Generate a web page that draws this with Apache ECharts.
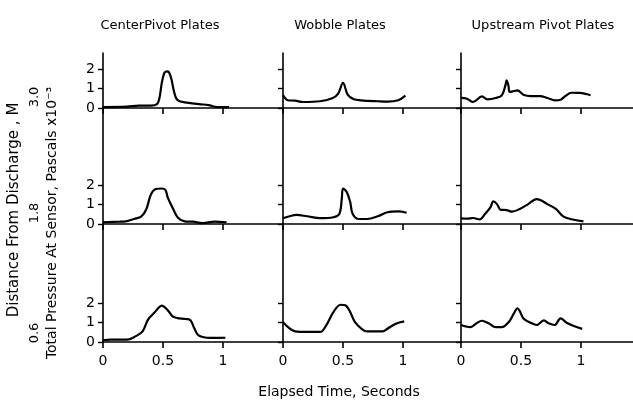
<!DOCTYPE html>
<html>
<head>
<meta charset="utf-8">
<script src="https://cdn.jsdelivr.net/npm/echarts@6/dist/echarts.min.js"></script>
<style>
  html, body { margin: 0; padding: 0; background: #fff; }
  #main { width: 633px; height: 401px; }
</style>
</head>
<body>
<div id="main"></div>
<script>
// column / row names
var plates = ['CenterPivot Plates', 'Wobble Plates', 'Upstream Pivot Plates'];
var distances = ['3.0', '1.8', '0.6'];
var xTicks = [0, 0.5, 1];
var yTicks = [0, 1, 2];

// [seconds, pressure x10^-3 Pa]   row = distance, col = plate type
var center30 = [[0,0.05],[0.2,0.07],[0.3,0.12],[0.4,0.12],[0.45,0.2],[0.47,0.5],[0.49,1.3],[0.51,1.8],[0.53,1.9],[0.55,1.85],[0.57,1.5],[0.59,0.9],[0.61,0.5],[0.64,0.35],[0.7,0.28],[0.8,0.2],[0.88,0.15],[0.95,0.05],[1.05,0.05]];
var wobble30 = [[0,0.67],[0.04,0.4],[0.1,0.38],[0.17,0.31],[0.31,0.35],[0.41,0.5],[0.46,0.75],[0.5,1.3],[0.54,0.68],[0.59,0.45],[0.65,0.4],[0.79,0.35],[0.87,0.33],[0.96,0.4],[1.02,0.64]];
var upstream30 = [[0,0.52],[0.05,0.48],[0.1,0.31],[0.175,0.6],[0.22,0.45],[0.29,0.52],[0.34,0.65],[0.37,1.17],[0.38,1.43],[0.395,1.17],[0.405,0.83],[0.43,0.86],[0.47,0.91],[0.52,0.69],[0.58,0.62],[0.66,0.62],[0.72,0.52],[0.785,0.4],[0.83,0.43],[0.87,0.62],[0.92,0.79],[0.99,0.78],[1.08,0.66]];

var center18 = [[0,0.09],[0.14,0.12],[0.19,0.14],[0.26,0.26],[0.32,0.4],[0.36,0.75],[0.4,1.54],[0.44,1.81],[0.49,1.84],[0.52,1.77],[0.54,1.37],[0.58,0.84],[0.625,0.32],[0.68,0.14],[0.75,0.12],[0.83,0.05],[0.93,0.12],[1.03,0.09]];
var wobble18 = [[0,0.3],[0.056,0.4],[0.11,0.47],[0.2,0.4],[0.31,0.3],[0.42,0.35],[0.47,0.53],[0.49,1.32],[0.5,1.84],[0.53,1.67],[0.56,1.14],[0.58,0.53],[0.63,0.26],[0.7,0.26],[0.79,0.4],[0.87,0.61],[0.96,0.65],[1.03,0.58]];
var upstream18 = [[0,0.29],[0.05,0.28],[0.1,0.31],[0.155,0.24],[0.2,0.52],[0.245,0.86],[0.27,1.17],[0.3,1.03],[0.33,0.74],[0.38,0.72],[0.425,0.64],[0.49,0.78],[0.56,1.03],[0.63,1.29],[0.66,1.24],[0.72,1.03],[0.79,0.78],[0.855,0.38],[0.94,0.22],[1.02,0.14]];

var center06 = [[0,0.09],[0.064,0.12],[0.2,0.12],[0.27,0.29],[0.33,0.55],[0.375,1.16],[0.425,1.5],[0.47,1.81],[0.49,1.88],[0.54,1.64],[0.58,1.33],[0.62,1.24],[0.69,1.19],[0.73,1.12],[0.76,0.72],[0.79,0.38],[0.83,0.26],[0.9,0.21],[1.02,0.22]];
var wobble06 = [[0,1.03],[0.04,0.78],[0.1,0.55],[0.2,0.52],[0.31,0.52],[0.36,0.86],[0.42,1.55],[0.48,1.93],[0.52,1.9],[0.56,1.55],[0.6,1.03],[0.66,0.66],[0.7,0.55],[0.83,0.55],[0.87,0.69],[0.94,0.95],[1.01,1.07]];
var upstream06 = [[0,0.88],[0.08,0.77],[0.13,0.97],[0.175,1.1],[0.23,0.97],[0.29,0.77],[0.34,0.77],[0.4,1.05],[0.44,1.47],[0.47,1.75],[0.49,1.6],[0.52,1.22],[0.58,1.0],[0.63,0.88],[0.69,1.12],[0.73,0.97],[0.78,0.88],[0.83,1.22],[0.88,1.0],[0.94,0.83],[1.01,0.68]];

var panels = [
    [center30, wobble30, upstream30],
    [center18, wobble18, upstream18],
    [center06, wobble06, upstream06]
];

var font = 'DejaVu Sans';
var cols = [{left: 103, width: 180}, {left: 283, width: 178}, {left: 461, width: 172}];
var rows = [{top: 53, height: 55}, {top: 108, height: 116}, {top: 224, height: 118}];
var pxPerSec = 120, pxPerUnit = 19.3;

var grids = [], xAxes = [], yAxes = [], series = [];
for (var r = 0; r < 3; r++) {
    for (var c = 0; c < 3; c++) {
        var idx = grids.length;
        grids.push({left: cols[c].left, width: cols[c].width, top: rows[r].top, height: rows[r].height});
        xAxes.push({
            type: 'value', gridIndex: idx, min: 0, max: cols[c].width / pxPerSec,
            axisLine: {lineStyle: {color: '#000', width: 1.6}},
            axisTick: {show: true, length: 6, customValues: xTicks, lineStyle: {color: '#000', width: 1.6}},
            axisLabel: {
                show: r == 2, customValues: xTicks, margin: 12,
                color: '#000', fontFamily: font, fontSize: 14,
                formatter: function(v) { return v == 0.5 ? '0.5' : String(v); }
            },
            splitLine: {show: false}
        });
        yAxes.push({
            type: 'value', gridIndex: idx, min: 0, max: rows[r].height / pxPerUnit,
            axisLine: {show: true, lineStyle: {color: '#000', width: 1.6}},
            axisTick: {show: true, length: 5, customValues: yTicks, lineStyle: {color: '#000', width: 1.4}},
            axisLabel: {
                show: c == 0, customValues: yTicks, margin: 8,
                color: '#000', fontFamily: font, fontSize: 14
            },
            splitLine: {show: false}
        });
        series.push({
            type: 'line', xAxisIndex: idx, yAxisIndex: idx,
            data: panels[r][c], showSymbol: false, smooth: 0.35,
            lineStyle: {color: '#000', width: 2.2}
        });
    }
}

var titleX = [155, 335, 538];
var titles = plates.map(function(p, i) {
    return {
        text: p, left: titleX[i], top: 14, textAlign: 'center',
        textStyle: {fontFamily: font, fontSize: 13, fontWeight: 'normal', color: '#000'}
    };
});
titles.push({
    text: 'Elapsed Time, Seconds', left: 334, top: 380, textAlign: 'center',
    textStyle: {fontFamily: font, fontSize: 14, fontWeight: 'normal', color: '#000'}
});

var distY = [97, 213, 333];
var graphics = distances.map(function(d, i) {
    return {
        type: 'text', x: 35, y: distY[i], rotation: Math.PI / 2,
        style: {text: d, fill: '#000', font: '13px "' + font + '"', align: 'center', verticalAlign: 'middle'}
    };
});
graphics.push({
    type: 'text', x: 14, y: 210, rotation: Math.PI / 2,
    style: {text: 'Distance From Discharge , M', fill: '#000', font: '15px "' + font + '"', align: 'center', verticalAlign: 'middle'}
});
graphics.push({
    type: 'text', x: 52, y: 223, rotation: Math.PI / 2,
    style: {text: 'Total Pressure At Sensor, Pascals x10\u207B\u00B3', fill: '#000', font: '14px "' + font + '"', align: 'center', verticalAlign: 'middle'}
});

var myChart = echarts.init(document.getElementById('main'));
myChart.setOption({
    backgroundColor: '#fff',
    animation: false,
    title: titles,
    grid: grids,
    xAxis: xAxes,
    yAxis: yAxes,
    series: series,
    graphic: graphics
});
</script>
</body>
</html>
